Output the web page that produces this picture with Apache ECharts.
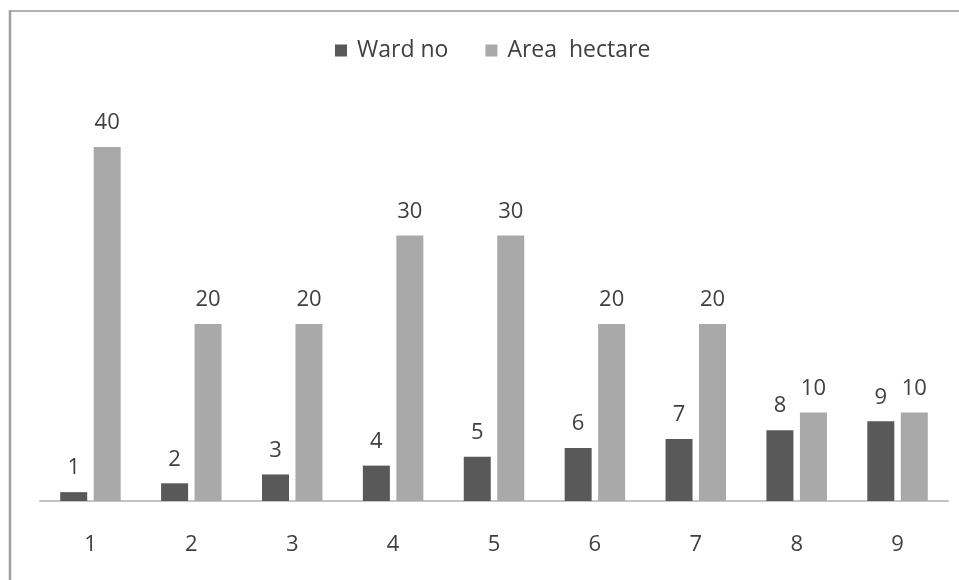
<!DOCTYPE html>
<html>
<head>
<meta charset="utf-8">
<script src="https://cdn.jsdelivr.net/npm/echarts@6/dist/echarts.min.js"></script>
<style>
  html, body { margin: 0; padding: 0; background: #fff; }
  #chart { width: 959px; height: 580px; }
</style>
</head>
<body>
<div id="chart"></div>
<script>
// Ward numbers and their area in hectares
const categories = ['1', '2', '3', '4', '5', '6', '7', '8', '9'];
const wardNo = [1, 2, 3, 4, 5, 6, 7, 8, 9];
const areaHectare = [40, 20, 20, 30, 30, 20, 20, 10, 10];

const FONT = '"Open Sans", Lato, sans-serif';
const TEXT = '#404040';

const chart = echarts.init(document.getElementById('chart'));

const labelStyle = {
  show: true,
  position: 'top',
  distance: 13,
  fontFamily: FONT,
  fontSize: 22,
  color: TEXT
};

chart.setOption({
  animation: false,
  backgroundColor: '#ffffff',
  textStyle: { fontFamily: FONT },
  graphic: [
    // frame along the top and left edges
    { type: 'line', shape: { x1: 9, y1: 11, x2: 959, y2: 11 }, style: { stroke: '#b3b3b3', lineWidth: 2 } },
    { type: 'line', shape: { x1: 10, y1: 10, x2: 10, y2: 580 }, style: { stroke: '#a0a0a0', lineWidth: 2.5 } }
  ],
  legend: {
    top: 34,
    left: 330,
    itemWidth: 12,
    itemHeight: 12,
    itemGap: 37,
    icon: 'rect',
    textStyle: { fontFamily: FONT, fontSize: 23, color: TEXT, padding: [0, 0, 0, 5] },
    data: ['Ward no', 'Area  hectare']
  },
  grid: { left: 40, right: 11, top: 147, bottom: 79, containLabel: false },
  xAxis: {
    type: 'category',
    data: categories,
    axisLine: { lineStyle: { color: '#c4c4c4', width: 2 } },
    axisTick: { show: false },
    axisLabel: { fontFamily: FONT, fontSize: 22, color: TEXT, margin: 33 }
  },
  yAxis: {
    type: 'value',
    min: 0,
    max: 40,
    show: false,
    splitLine: { show: false }
  },
  series: [
    {
      name: 'Ward no',
      type: 'bar',
      data: wardNo,
      barWidth: 27,
      barGap: '24%',
      itemStyle: { color: '#595959' },
      label: labelStyle
    },
    {
      name: 'Area  hectare',
      type: 'bar',
      data: areaHectare,
      barWidth: 27,
      itemStyle: { color: '#a9a9a9' },
      label: labelStyle
    }
  ]
});
</script>
</body>
</html>
